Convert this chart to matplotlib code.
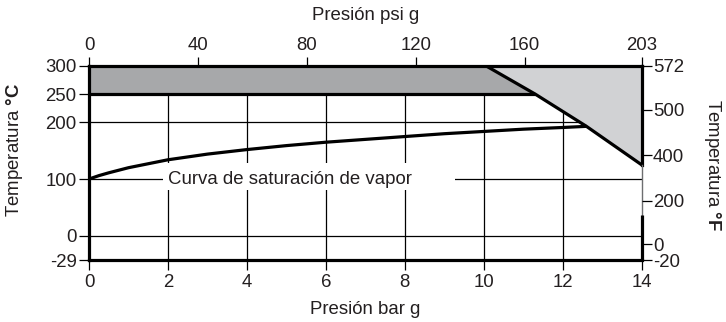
import numpy as np
import matplotlib
matplotlib.use("Agg")
import matplotlib.pyplot as plt

plt.rcParams["font.family"] = ["Liberation Sans", "DejaVu Sans"]
plt.rcParams["mathtext.fontset"] = "custom"
plt.rcParams["mathtext.rm"] = "Liberation Sans"
plt.rcParams["mathtext.bf"] = "Liberation Sans:bold"

# saturation curve (bar g, degC)
sat_bar = [0, 0.25, 0.5, 1, 1.5, 2, 3, 4, 5, 6, 7, 8, 9, 10, 11, 12, 12.6]
sat_c = [100, 106, 111, 120, 127, 134, 144, 152, 159, 165, 170, 175, 180, 184, 188, 191, 193]

# rating limit line (bar g, degC)
lim_bar = [10.05, 11.3, 12.6, 14.0]
lim_c = [300, 250, 193, 125]

band_lo, band_hi = 250, 300
thin_spine_lo = 36  # right edge is drawn thin between this and the limit end

bar_ticks = [0, 2, 4, 6, 8, 10, 12, 14]
psi_ticks = [0, 40, 80, 120, 160, 203]
c_ticks = [-29, 0, 100, 200, 250, 300]
f_labels = ["-20", "0", "200", "400", "500", "572"]
f_pos = [-29, -10, 62, 142, 222, 300]  # where the F labels sit on the C scale

text_col = "#231f20"
dark = "#a7a8aa"
light = "#d1d2d4"
fs = 13.4
lw_thick = 2.3


def fwd(y):
    y = np.asarray(y, dtype=float)
    return np.where(y < 0, y * 1.48, y)


def inv(y):
    y = np.asarray(y, dtype=float)
    return np.where(y < 0, y / 1.48, y)


fig = plt.figure(figsize=(7.26, 3.22), dpi=100)
ax = fig.add_axes([0.1226, 0.1925, 0.7613, 0.6034])
ax.set_yscale("function", functions=(fwd, inv))
ax.set_xlim(0, 14)
ax.set_ylim(-29, 300)

# grid
for x in bar_ticks[1:-1]:
    ax.axvline(x, color="black", lw=0.9, zorder=1)
for y in [0, 100, 200]:
    ax.axhline(y, color="black", lw=0.9, zorder=1)

# shaded band and triangle
ax.fill_between([0, 14], band_lo, band_hi, color=dark, lw=0, zorder=2)
ax.fill(lim_bar + [14], lim_c + [300], color=light, lw=0, zorder=3)
ax.plot([0, lim_bar[1]], [band_lo, band_lo], color="black", lw=lw_thick, zorder=4,
        solid_capstyle="butt")
ax.plot(lim_bar, lim_c, color="black", lw=lw_thick, zorder=5, solid_capstyle="butt")

# white mask behind the label
ax.add_patch(plt.Rectangle((1.88, 81), 7.38, 48, color="white", lw=0, zorder=2))
ax.text(5.1, 100, "Curva de saturación de vapor", ha="center", va="center",
        fontsize=fs, color=text_col, zorder=6)

ax.plot(sat_bar, sat_c, color="black", lw=lw_thick, zorder=5, solid_capstyle="butt")

for s in ax.spines.values():
    s.set_linewidth(lw_thick)
    s.set_zorder(7)
ax.spines["right"].set_visible(False)

# right edge: thick, thin grey piece, thick
ax.plot([14, 14], [lim_c[-1], 300], color="black", lw=lw_thick, clip_on=False, zorder=7)
ax.plot([14, 14], [thin_spine_lo, lim_c[-1]], color="#6d6e70", lw=1.0, clip_on=False, zorder=7)
ax.plot([14, 14], [-29, thin_spine_lo], color="black", lw=lw_thick, clip_on=False, zorder=7,
        solid_capstyle="butt")

ax.set_xticks(bar_ticks)
ax.set_yticks(c_ticks)
ax.set_yticklabels([str(v) for v in c_ticks])
ax.tick_params(axis="both", labelsize=fs, labelcolor=text_col, width=0.9)
ax.tick_params(axis="x", length=7, pad=3)
ax.tick_params(axis="y", length=7, pad=2)

top = ax.secondary_xaxis("top", functions=(lambda b: b * 14.5, lambda p: p / 14.5))
top.set_xticks(psi_ticks)
top.tick_params(labelsize=fs, labelcolor=text_col, length=6.5, width=0.9, pad=2)
top.spines["top"].set_visible(False)

right = ax.twinx()
right.set_yscale("function", functions=(fwd, inv))
right.set_ylim(-29, 300)
right.set_yticks(f_pos)
right.set_yticklabels(f_labels)
right.tick_params(labelsize=fs, labelcolor=text_col, length=7, width=0.9, pad=1)
for s in right.spines.values():
    s.set_visible(False)

fig.text(0.5035, 1 - 16 / 322, "Presión psi g", ha="center", va="center",
         fontsize=fs, color=text_col)
fig.text(0.5035, 1 - 309 / 322, "Presión bar g", ha="center", va="center",
         fontsize=fs, color=text_col)
fig.text(15 / 726, 1 - 150 / 322, r"Temperatura $\mathbf{°C}$", ha="center",
         va="center", rotation=90, fontsize=fs, color=text_col)
fig.text(713 / 726, 1 - 165 / 322, r"Temperatura $\mathbf{°F}$", ha="center",
         va="center", rotation=-90, fontsize=fs, color=text_col)

fig.savefig("out.png", dpi=100)
